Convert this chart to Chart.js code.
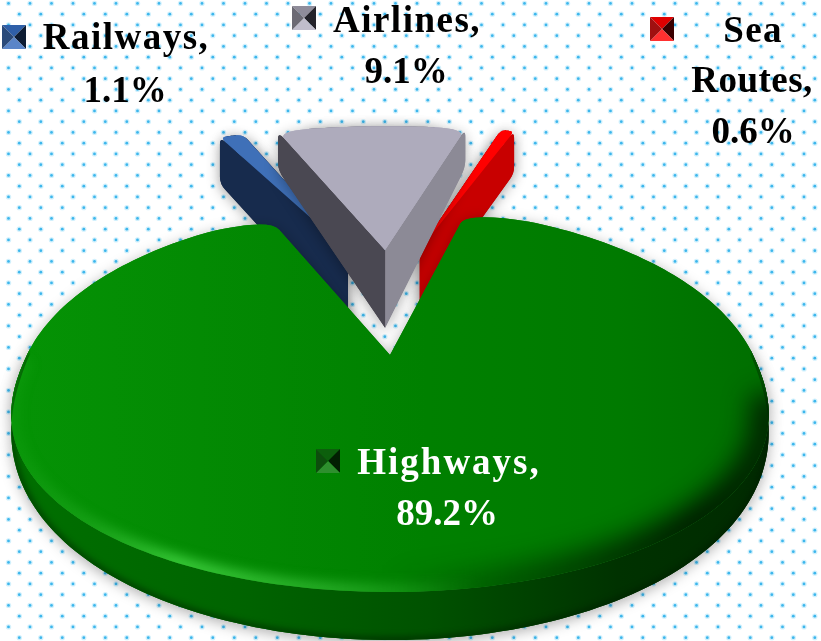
<!DOCTYPE html>
<html>
<head>
<meta charset="utf-8">
<title>Transport modes</title>
<script src="https://cdn.jsdelivr.net/npm/chart.js@4/dist/chart.umd.min.js"></script>
<style>
  html, body { margin: 0; padding: 0; background: #fff; }
  canvas { display: block; }
</style>
</head>
<body>
<canvas id="modalShare" width="821" height="641"></canvas>
<script>
const categories = ['Highways', 'Railways', 'Airlines', 'Sea Routes'];
const shares = [89.2, 1.1, 9.1, 0.6];
const explodeOffsets = [0, 168, 158, 165];

// look of each wedge, same order as categories
const wedgeLook = [
  { top: '#008000', side: '#006400', wall: '#006400', key: ['#0c5f0c', '#021f02', '#2e8f2e', '#0d4d0d'], grow: 1, widen: 1, lean: 0, depth: 36.8, taper: 0, inset: 0.1, sweep: 0.07, fuller: 0.85 },
  { top: '#3f70b8', side: '#172b4d', wall: '#172b4d', key: ['#2f5fa8', '#0d1c33', '#5a85c8', '#2a4a7a'], grow: 1.09, widen: 1.22, lean: 0.0175, depth: 65, taper: 0.3, inset: 0.05, sweep: 0.02 },
  { top: '#aeabbc', side: '#4a4852', wall: '#8c8a96', rightSide: '#8c8a96', key: ['#8f8c9a', '#24232a', '#c0bdcc', '#6c6a74'], grow: 1.12, widen: 1.15, lean: 0.0175, depth: 54, taper: 0.66, inset: 0.07, sweep: 0.03 },
  { top: '#ff0000', side: '#c80000', wall: '#c80000', key: ['#e00000', '#3a0000', '#ff3030', '#a01010'], grow: 1.1, widen: 1.27, lean: 0.0175, depth: 59, taper: 0.08, inset: 0.05, sweep: 0.012 }
];

// where each label block sits: key square, then centre, baseline and tracking per line
const labelSpots = [
  { key: [316, 449], color: '#fff', lines: [[449, 474, 2], [447, 525, 0]] },
  { key: [2, 25], color: '#000', lines: [[126, 49, 1.5], [125, 102, 0]] },
  { key: [292, 6], color: '#000', lines: [[407, 32, 1.5], [406, 83, 0]] },
  { key: [650, 17], color: '#000', lines: [[753, 42, 1.3], [752, 92, 0.5], [753, 143, 0]] }
];
const paintOrder = [1, 3, 2, 0];

// perspective of the tilted disc
const discRadius = 363, tiltNear = -0.234, tiltRise = 98.5, centreY = 355;
const explodeSpread = 0.53;

function depthScale(v) { return 1 / (1 + tiltNear * v); }

function wedgePoints(arc, look) {
  const { x: cx, outerRadius } = arc;
  const startAngle = arc.startAngle + look.lean;
  const endAngle = arc.endAngle + look.lean;
  const mid = (startAngle + endAngle) / 2;
  const e = arc.options.offset / outerRadius;
  const ax = e * Math.cos(mid) * explodeSpread;
  const ay = e * Math.sin(mid);
  const at = (r, a) => {
    const sin = Math.sin(a);
    // the near half of the disc bulges a little, the bevel makes it look fuller
    const along = look.fuller && sin > 0 ? Math.pow(sin, look.fuller) : sin;
    const u = ax + r * look.grow * look.widen * Math.cos(a);
    const v = ay + r * look.grow * along;
    const s = depthScale(v);
    const top = { x: cx + discRadius * u * s, y: (tiltRise * v + centreY) * s };
    const falloff = look.fuller ? 0.15 + 0.85 * Math.pow(Math.max(sin, 0), 0.8) : 1;
    const drop = look.depth * s * (1 + look.taper * (1 - r)) * falloff;
    return { top, bottom: { x: top.x, y: top.y + drop }, a };
  };
  const sweep = Math.min(look.sweep * Math.PI, (endAngle - startAngle) * 0.3);
  const steps = Math.max(6, Math.round((endAngle - startAngle) * 40));
  const rim = [];
  for (let i = 0; i <= steps; i++) {
    rim.push(at(1, startAngle + sweep + (endAngle - startAngle - 2 * sweep) * i / steps));
  }
  return {
    rim,
    apex: at(0, mid),
    startCorner: at(1, startAngle), startIn: at(1 - look.inset, startAngle),
    endCorner: at(1, endAngle), endIn: at(1 - look.inset, endAngle)
  };
}

function traceTop(ctx, w) {
  ctx.beginPath();
  ctx.moveTo(w.apex.top.x, w.apex.top.y);
  ctx.lineTo(w.startIn.top.x, w.startIn.top.y);
  ctx.quadraticCurveTo(w.startCorner.top.x, w.startCorner.top.y, w.rim[0].top.x, w.rim[0].top.y);
  w.rim.forEach(p => ctx.lineTo(p.top.x, p.top.y));
  ctx.quadraticCurveTo(w.endCorner.top.x, w.endCorner.top.y, w.endIn.top.x, w.endIn.top.y);
  ctx.closePath();
}

// radial cut face, its outer edge stays upright with rounded ends
function traceSide(ctx, apex, inner, corner) {
  const round = 7;
  ctx.beginPath();
  ctx.moveTo(apex.top.x, apex.top.y);
  ctx.lineTo(inner.top.x, inner.top.y);
  ctx.quadraticCurveTo(corner.top.x, corner.top.y, corner.top.x, corner.top.y + round);
  ctx.lineTo(corner.bottom.x, corner.bottom.y - round);
  ctx.quadraticCurveTo(corner.bottom.x, corner.bottom.y, inner.bottom.x, inner.bottom.y);
  ctx.lineTo(apex.bottom.x, apex.bottom.y);
  ctx.closePath();
}

function traceWall(ctx, rim) {
  ctx.beginPath();
  rim.forEach((p, i) => i ? ctx.lineTo(p.top.x, p.top.y) : ctx.moveTo(p.top.x, p.top.y));
  for (let i = rim.length - 1; i >= 0; i--) ctx.lineTo(rim[i].bottom.x, rim[i].bottom.y);
  ctx.closePath();
}

function horizontal(ctx, stops) {
  const g = ctx.createLinearGradient(10, 0, 770, 0);
  stops.forEach(([pos, color]) => g.addColorStop(pos, color));
  return g;
}

// only the part of the disc edge that faces the viewer has a visible wall
const nearRim = (rim, from) => rim.filter(p => Math.sin(p.a) > from);

function paintBody(ctx, w, look, isDisc) {
  ctx.fillStyle = isDisc
    ? horizontal(ctx, [[0, '#007000'], [0.3, '#006400'], [0.55, '#005200'], [0.8, '#003200'], [1, '#002a00']])
    : look.wall;
  traceWall(ctx, isDisc ? nearRim(w.rim, -0.05) : w.rim);
  ctx.fill();
  if (isDisc) return;
  ctx.fillStyle = look.rightSide || look.side;
  traceSide(ctx, w.apex, w.endIn, w.endCorner);
  ctx.fill();
  ctx.fillStyle = look.side;
  traceSide(ctx, w.apex, w.startIn, w.startCorner);
  ctx.fill();
}

function strokeNearRim(ctx, rim, width, from) {
  ctx.lineWidth = width;
  ctx.beginPath();
  nearRim(rim, from).forEach((p, i) => {
    i ? ctx.lineTo(p.top.x, p.top.y) : ctx.moveTo(p.top.x, p.top.y);
  });
  ctx.stroke();
}

// bevel along the near edge: a lit band on the left, a dark one on the right
function paintDiscRim(ctx, w) {
  ctx.save();
  traceTop(ctx, w);
  ctx.clip();
  ctx.filter = 'blur(13px)';
  ctx.strokeStyle = horizontal(ctx, [
    [0.5, 'rgba(0,20,0,0)'], [0.72, 'rgba(0,25,0,0.55)'], [0.9, 'rgba(0,20,0,0.95)'], [1, 'rgba(0,20,0,0.8)']
  ]);
  strokeNearRim(ctx, w.rim, 36, 0.14);
  ctx.filter = 'blur(6px)';
  ctx.strokeStyle = horizontal(ctx, [
    [0, 'rgba(50,185,50,0.1)'], [0.1, 'rgba(50,185,50,0.4)'], [0.22, 'rgba(60,205,60,0.95)'],
    [0.42, 'rgba(60,195,60,0.6)'], [0.62, 'rgba(60,190,60,0)']
  ]);
  strokeNearRim(ctx, w.rim, 16, 0);
  ctx.restore();

  // darker lower lip of the wall
  const wallRim = nearRim(w.rim, -0.05);
  ctx.save();
  traceWall(ctx, wallRim);
  ctx.clip();
  ctx.filter = 'blur(3px)';
  ctx.strokeStyle = 'rgba(0,25,0,0.55)';
  ctx.lineWidth = 6;
  ctx.beginPath();
  wallRim.forEach((p, i) => i ? ctx.lineTo(p.bottom.x, p.bottom.y) : ctx.moveTo(p.bottom.x, p.bottom.y));
  ctx.stroke();
  ctx.restore();
}

const tiltedPie = {
  id: 'tiltedPie',
  beforeDraw(chart) {
    // dotted paper behind the pie
    const ctx = chart.ctx;
    ctx.save();
    ctx.fillStyle = '#fff';
    ctx.fillRect(0, 0, chart.width, chart.height);
    for (let row = 0; row < 60; row++) {
      const y = 3.4 + row * 10.75;
      const shift = row % 2 ? 19.3 : 8.5;
      for (let x = shift; x < chart.width; x += 21.5) {
        ctx.fillStyle = 'rgba(90,200,245,0.28)';
        ctx.beginPath(); ctx.arc(x, y, 2.7, 0, Math.PI * 2); ctx.fill();
        ctx.fillStyle = '#3db6ec';
        ctx.beginPath(); ctx.arc(x, y, 1.4, 0, Math.PI * 2); ctx.fill();
      }
    }
    ctx.restore();
  },
  beforeDatasetDraw(chart) {
    const ctx = chart.ctx;
    const arcs = chart.getDatasetMeta(0).data;
    ctx.save();
    paintOrder.forEach(i => {
      const look = wedgeLook[i];
      const w = wedgePoints(arcs[i], look);
      const isDisc = i === 0;
      const topFill = isDisc
        ? horizontal(ctx, [[0, '#059305'], [0.25, '#038a03'], [0.55, '#008000'], [0.8, '#007a00'], [1, '#006e00']])
        : look.top;

      ctx.save();
      ctx.shadowColor = 'rgba(0,0,0,0.32)';
      ctx.shadowBlur = 14;
      ctx.shadowOffsetY = 3;
      paintBody(ctx, w, look, isDisc);
      ctx.fillStyle = topFill;
      traceTop(ctx, w);
      ctx.fill();
      ctx.restore();
      paintBody(ctx, w, look, isDisc);

      ctx.fillStyle = topFill;
      traceTop(ctx, w);
      ctx.fill();
      if (isDisc) paintDiscRim(ctx, w);
    });
    ctx.restore();
    return false;
  },
  afterDraw(chart) {
    const ctx = chart.ctx;
    const values = chart.data.datasets[0].data;
    ctx.save();
    ctx.font = 'bold 37px "Liberation Serif", serif';
    ctx.textAlign = 'center';
    ctx.textBaseline = 'alphabetic';
    chart.data.labels.forEach((label, i) => {
      const spot = labelSpots[i];
      const words = label.split(' ');
      const lines = [...words.slice(0, -1), words[words.length - 1] + ',', values[i].toFixed(1) + '%'];
      ctx.fillStyle = spot.color;
      lines.forEach((text, n) => {
        ctx.letterSpacing = spot.lines[n][2] + 'px';
        ctx.fillText(text, spot.lines[n][0], spot.lines[n][1]);
      });
      drawKey(ctx, spot.key[0], spot.key[1], 24, wedgeLook[i].key);
    });
    ctx.restore();
  }
};

// legend square shaded like a small pyramid: top, right, bottom, left
function drawKey(ctx, x, y, size, faces) {
  const c = { x: x + size / 2, y: y + size / 2 };
  const corners = [[x, y], [x + size, y], [x + size, y + size], [x, y + size]];
  faces.forEach((color, i) => {
    const a = corners[i], b = corners[(i + 1) % 4];
    ctx.fillStyle = color;
    ctx.beginPath();
    ctx.moveTo(a[0], a[1]);
    ctx.lineTo(b[0], b[1]);
    ctx.lineTo(c.x, c.y);
    ctx.closePath();
    ctx.fill();
  });
}

new Chart(document.getElementById('modalShare'), {
  type: 'pie',
  data: {
    labels: categories,
    datasets: [{ data: shares, offset: explodeOffsets, borderWidth: 0 }]
  },
  options: {
    responsive: false,
    animation: false,
    rotation: 15,
    layout: { padding: { right: 41 } },
    plugins: { legend: { display: false }, tooltip: { enabled: false } }
  },
  plugins: [tiltedPie]
});
</script>
</body>
</html>
